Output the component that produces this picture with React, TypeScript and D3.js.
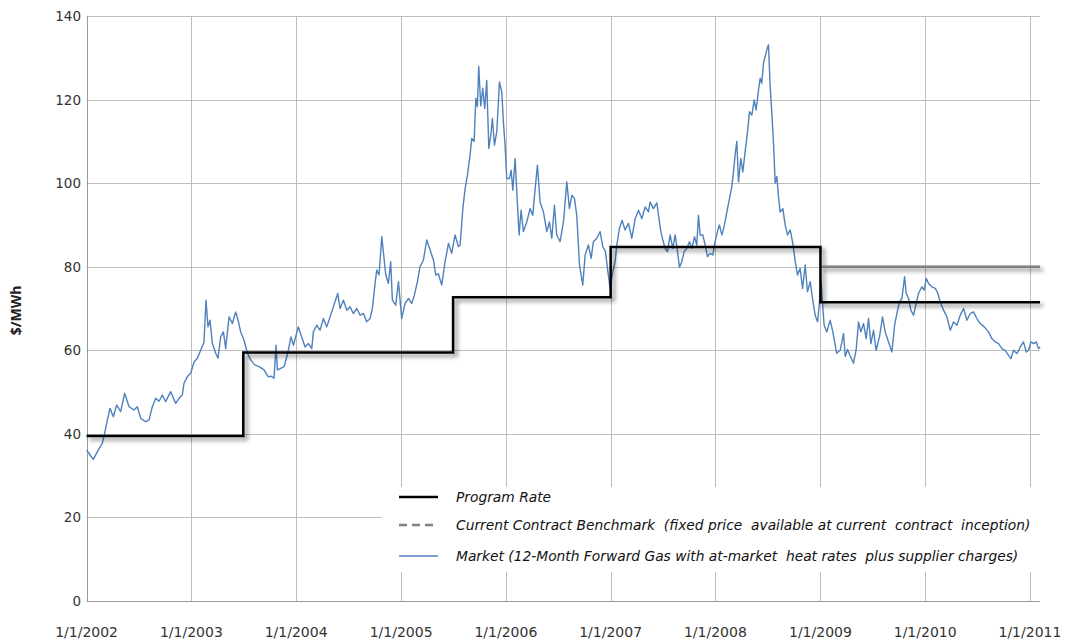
import * as d3 from "d3";

// y axis values
const yTicks = [0, 20, 40, 60, 80, 100, 120, 140];

// program rate (step after each date)
const rateDates = ["2002-01-01", "2003-07-01", "2005-07-01", "2007-01-01", "2009-01-01", "2011-02-05"];
const rateValues = [39.5, 59.5, 72.7, 84.7, 71.5, 71.5];

// current contract benchmark
const benchDates = ["2009-01-01", "2011-02-05"];
const benchValues = [80, 80];

// market: years elapsed since 1/1/2002, and $/MWh
const marketT = [
  0.0, 0.023, 0.064, 0.102, 0.15, 0.172, 0.198, 0.223, 0.255, 0.287, 0.325, 0.363, 0.405, 0.452, 0.484,
  0.516, 0.564, 0.595, 0.627, 0.659, 0.691, 0.723, 0.754, 0.802, 0.85, 0.882, 0.913, 0.929, 0.961, 0.993,
  1.025, 1.057, 1.088, 1.12, 1.139, 1.158, 1.177, 1.2, 1.232, 1.254, 1.279, 1.305, 1.327, 1.359, 1.391,
  1.422, 1.445, 1.47, 1.502, 1.534, 1.566, 1.604, 1.645, 1.693, 1.731, 1.763, 1.788, 1.807, 1.82, 1.852,
  1.884, 1.919, 1.95, 1.973, 2.02, 2.052, 2.084, 2.116, 2.148, 2.163, 2.195, 2.227, 2.259, 2.291, 2.323,
  2.354, 2.396, 2.418, 2.45, 2.482, 2.513, 2.545, 2.577, 2.609, 2.641, 2.672, 2.704, 2.726, 2.752, 2.768,
  2.79, 2.816, 2.831, 2.854, 2.879, 2.901, 2.917, 2.949, 2.975, 3.006, 3.038, 3.07, 3.102, 3.127, 3.159,
  3.181, 3.213, 3.245, 3.277, 3.309, 3.331, 3.356, 3.388, 3.42, 3.452, 3.483, 3.515, 3.547, 3.563, 3.579,
  3.589, 3.611, 3.633, 3.658, 3.674, 3.697, 3.713, 3.728, 3.741, 3.76, 3.779, 3.798, 3.817, 3.837, 3.856,
  3.871, 3.891, 3.913, 3.929, 3.938, 3.961, 3.976, 3.992, 4.008, 4.034, 4.05, 4.066, 4.088, 4.104, 4.126,
  4.145, 4.167, 4.199, 4.231, 4.256, 4.279, 4.301, 4.326, 4.358, 4.39, 4.415, 4.438, 4.463, 4.485, 4.517,
  4.549, 4.581, 4.606, 4.629, 4.654, 4.676, 4.702, 4.733, 4.756, 4.787, 4.813, 4.835, 4.867, 4.899, 4.924,
  4.95, 4.969, 4.994, 5.02, 5.042, 5.058, 5.083, 5.109, 5.137, 5.169, 5.201, 5.233, 5.265, 5.297, 5.328,
  5.36, 5.376, 5.408, 5.44, 5.456, 5.478, 5.497, 5.519, 5.541, 5.567, 5.592, 5.615, 5.637, 5.656, 5.678,
  5.7, 5.726, 5.751, 5.774, 5.799, 5.821, 5.837, 5.853, 5.878, 5.901, 5.923, 5.948, 5.974, 5.996, 6.018,
  6.037, 6.06, 6.082, 6.108, 6.133, 6.155, 6.171, 6.19, 6.203, 6.219, 6.241, 6.26, 6.282, 6.305, 6.324,
  6.346, 6.368, 6.387, 6.41, 6.426, 6.441, 6.457, 6.473, 6.489, 6.505, 6.521, 6.537, 6.553, 6.569, 6.585,
  6.6, 6.616, 6.642, 6.664, 6.686, 6.712, 6.737, 6.76, 6.782, 6.807, 6.83, 6.855, 6.877, 6.903, 6.925,
  6.95, 6.973, 6.992, 7.008, 7.024, 7.036, 7.062, 7.093, 7.119, 7.155, 7.189, 7.221, 7.237, 7.259, 7.284,
  7.316, 7.342, 7.364, 7.386, 7.412, 7.437, 7.459, 7.482, 7.507, 7.532, 7.564, 7.593, 7.618, 7.65, 7.682,
  7.708, 7.73, 7.755, 7.778, 7.803, 7.819, 7.841, 7.863, 7.889, 7.914, 7.936, 7.968, 7.99, 8.01, 8.032,
  8.064, 8.096, 8.121, 8.143, 8.175, 8.207, 8.239, 8.271, 8.302, 8.334, 8.366, 8.398, 8.43, 8.461, 8.493,
  8.525, 8.563, 8.604, 8.636, 8.668, 8.7, 8.732, 8.763, 8.795, 8.818, 8.843, 8.875, 8.907, 8.938, 8.964,
  8.986, 9.008, 9.034, 9.059, 9.081, 9.097,
];
const marketV = [
  36.1, 35.3, 33.9, 35.7, 37.7, 40.1, 43.3, 46.1, 44.1, 46.9, 45.3, 49.7, 46.5, 45.7, 46.5,
  43.7, 42.9, 43.3, 46.5, 48.5, 47.8, 49.3, 47.7, 50.1, 47.3, 48.5, 49.3, 52.1, 53.7, 54.5,
  57.2, 58.1, 60.0, 62.0, 72.0, 65.6, 67.2, 61.6, 59.3, 58.1, 63.2, 64.4, 60.4, 68.0, 66.4,
  69.2, 67.2, 64.4, 62.4, 59.3, 57.7, 56.5, 56.1, 55.3, 53.7, 53.8, 53.3, 61.2, 55.3, 55.7,
  56.1, 59.3, 63.2, 61.2, 65.6, 63.2, 60.8, 61.6, 60.4, 64.4, 66.0, 64.8, 67.6, 65.6, 68.0,
  70.4, 73.6, 70.0, 72.0, 69.6, 70.4, 68.8, 70.0, 68.4, 68.8, 66.8, 67.6, 70.0, 76.0, 79.2,
  78.0, 87.2, 83.6, 78.0, 76.0, 81.2, 72.0, 70.8, 76.4, 67.6, 71.2, 72.4, 71.2, 73.2, 76.8,
  80.0, 81.6, 86.4, 84.0, 81.6, 78.0, 78.3, 75.6, 81.2, 85.6, 83.2, 87.6, 84.8, 85.2, 90.4,
  93.9, 98.7, 101.9, 106.7, 110.7, 110.0, 120.3, 118.3, 127.9, 118.5, 122.7, 117.9, 124.6, 108.3, 111.5,
  115.5, 109.1, 112.3, 119.5, 124.2, 121.8, 114.7, 109.1, 101.1, 101.1, 103.1, 98.3, 105.9, 97.9, 87.6,
  93.5, 88.4, 90.7, 93.9, 92.3, 98.7, 104.3, 95.5, 93.1, 88.4, 90.7, 86.8, 94.7, 87.6, 86.0,
  90.7, 100.3, 93.9, 97.1, 96.3, 92.3, 80.4, 75.6, 82.8, 85.2, 82.0, 86.0, 86.8, 88.4, 84.8,
  83.6, 79.6, 74.8, 78.8, 81.2, 85.2, 89.2, 91.1, 88.8, 90.4, 86.8, 91.5, 93.5, 91.5, 94.3,
  93.1, 95.5, 93.9, 95.3, 92.3, 88.4, 86.4, 84.4, 83.6, 87.6, 84.4, 87.6, 83.6, 79.9, 81.2,
  83.6, 84.4, 86.0, 84.4, 87.2, 85.2, 92.3, 87.6, 87.6, 85.2, 82.4, 83.2, 82.8, 86.0, 88.4,
  90.0, 87.6, 89.6, 93.1, 96.3, 99.1, 102.7, 107.5, 110.0, 100.3, 105.9, 102.7, 107.5, 112.3, 117.1,
  116.3, 119.9, 117.5, 122.3, 125.1, 123.9, 128.7, 130.3, 131.9, 133.1, 123.1, 116.7, 109.5, 100.0, 101.6,
  96.8, 93.1, 93.9, 90.0, 87.6, 88.8, 85.6, 81.2, 78.0, 79.6, 74.8, 80.4, 74.0, 76.4, 72.4,
  68.4, 66.8, 71.6, 76.4, 70.0, 66.0, 64.4, 67.2, 64.4, 59.3, 60.0, 64.0, 58.5, 60.2, 58.7,
  56.9, 60.2, 66.8, 64.4, 66.4, 62.8, 67.6, 61.6, 64.8, 60.0, 63.2, 68.0, 64.4, 62.0, 59.6,
  66.0, 68.8, 71.6, 72.4, 77.6, 73.6, 72.4, 69.6, 68.4, 71.2, 73.6, 75.2, 74.4, 77.2, 76.0,
  75.2, 74.8, 73.6, 71.6, 69.6, 68.0, 64.8, 66.8, 66.0, 68.4, 70.0, 67.2, 68.8, 69.2, 67.6,
  66.4, 65.6, 64.4, 62.8, 62.0, 61.6, 60.4, 60.0, 58.8, 58.0, 60.0, 59.2, 60.8, 62.0, 59.6,
  60.0, 62.0, 61.6, 62.0, 60.4, 60.8,
];

const legendLabels = [
  "Program Rate",
  "Current Contract Benchmark  (fixed price  available at current  contract  inception)",
  "Market (12-Month Forward Gas with at-market  heat rates  plus supplier charges)",
];

const W = 1068;
const H = 639;
const left = 86.6, right = 1040, top = 16, bottom = 601;
const tickFont = "'DejaVu Sans', Verdana, sans-serif";

export default function App() {
  const x = d3.scaleUtc([new Date("2002-01-01"), new Date("2011-02-05")], [left, right]);
  const y = d3.scaleLinear([0, 140], [bottom, top]);
  const start = Date.UTC(2002, 0, 1);
  const yearMs = 365.25 * 864e5;

  const market = marketT.map((t, i) => ({ d: new Date(start + t * yearMs), v: marketV[i] }));
  const rate = rateDates.map((s, i) => ({ d: new Date(s), v: rateValues[i] }));
  const bench = benchDates.map((s, i) => ({ d: new Date(s), v: benchValues[i] }));

  const line = d3.line<{ d: Date; v: number }>().x((p) => x(p.d)).y((p) => y(p.v));
  const step = d3.line<{ d: Date; v: number }>().x((p) => x(p.d)).y((p) => y(p.v)).curve(d3.curveStepAfter);

  const years = d3.utcYear.range(new Date("2002-01-01"), new Date("2011-01-02"));
  const fmt = d3.utcFormat("%-m/%-d/%Y");
  const crisp = (v: number) => Math.round(v) + 0.5;

  const legendRows = [497, 525, 556];

  return (
    <svg width={W} height={H} style={{ position: "absolute", left: 0, top: 0, background: "#fff" }}>
      <defs>
        <filter id="shadow" filterUnits="userSpaceOnUse" x="0" y="0" width={W} height={H}>
          <feDropShadow dx="3" dy="3" stdDeviation="2.2" floodColor="#000" floodOpacity="0.5" />
        </filter>
      </defs>
      <rect width={W} height={H} fill="#fff" />

      {/* grid */}
      <g stroke="#bdbdbd" strokeWidth="1">
        {yTicks.slice(1).map((t) => (
          <line key={t} x1={left} x2={right} y1={crisp(y(t))} y2={crisp(y(t))} />
        ))}
        {years.slice(1).map((d) => (
          <line key={+d} x1={crisp(x(d))} x2={crisp(x(d))} y1={top} y2={bottom} />
        ))}
      </g>
      <g stroke="#9a9a9a" strokeWidth="1">
        <line x1={crisp(left)} x2={crisp(left)} y1={top} y2={bottom} />
        <line x1={left} x2={right} y1={crisp(bottom)} y2={crisp(bottom)} />
      </g>

      {/* y ticks */}
      <g fontFamily={tickFont} fontSize="13.5" fill="#333" textAnchor="end">
        {yTicks.map((t) => (
          <text key={t} x={81} y={y(t) + 5}>
            {t}
          </text>
        ))}
      </g>
      {/* x ticks */}
      <g fontFamily={tickFont} fontSize="14" fill="#333" textAnchor="middle">
        {years.map((d) => (
          <text key={+d} x={x(d)} y={637}>
            {fmt(d)}
          </text>
        ))}
      </g>
      <text
        transform={`translate(21,${(top + bottom) / 2 + 2}) rotate(-90)`}
        textAnchor="middle"
        fontFamily="'Open Sans', sans-serif"
        fontWeight="bold"
        fontSize="14"
        fill="#222"
      >
        $/MWh
      </text>

      {/* series */}
      <path d={line(market) ?? ""} fill="none" stroke="#4f81bd" strokeWidth="1.4" strokeLinejoin="round" />
      <g filter="url(#shadow)">
        <path d={line(bench) ?? ""} fill="none" stroke="#7f7f7f" strokeWidth="2.5" />
        <path d={step(rate) ?? ""} fill="none" stroke="#000" strokeWidth="2.5" strokeLinejoin="miter" />
      </g>

      {/* legend */}
      <rect x={382} y={487} width={right - 382} height={85} fill="#fff" />
      <g>
        <line x1={399} x2={438} y1={legendRows[0]} y2={legendRows[0]} stroke="#000" strokeWidth="2.5" />
        <line x1={399} x2={438} y1={legendRows[1]} y2={legendRows[1]} stroke="#808080" strokeWidth="2.5" strokeDasharray="8 5" />
        <line x1={399} x2={438} y1={legendRows[2]} y2={legendRows[2]} stroke="#4f81bd" strokeWidth="1.4" />
      </g>
      <g fontFamily="'DejaVu Sans', sans-serif" fontStyle="italic" fontSize="13.8" fill="#111">
        {legendLabels.map((l, i) => (
          <text key={l} x={456} y={legendRows[i] + 5} style={{ whiteSpace: "pre" }}>
            {l}
          </text>
        ))}
      </g>
    </svg>
  );
}
